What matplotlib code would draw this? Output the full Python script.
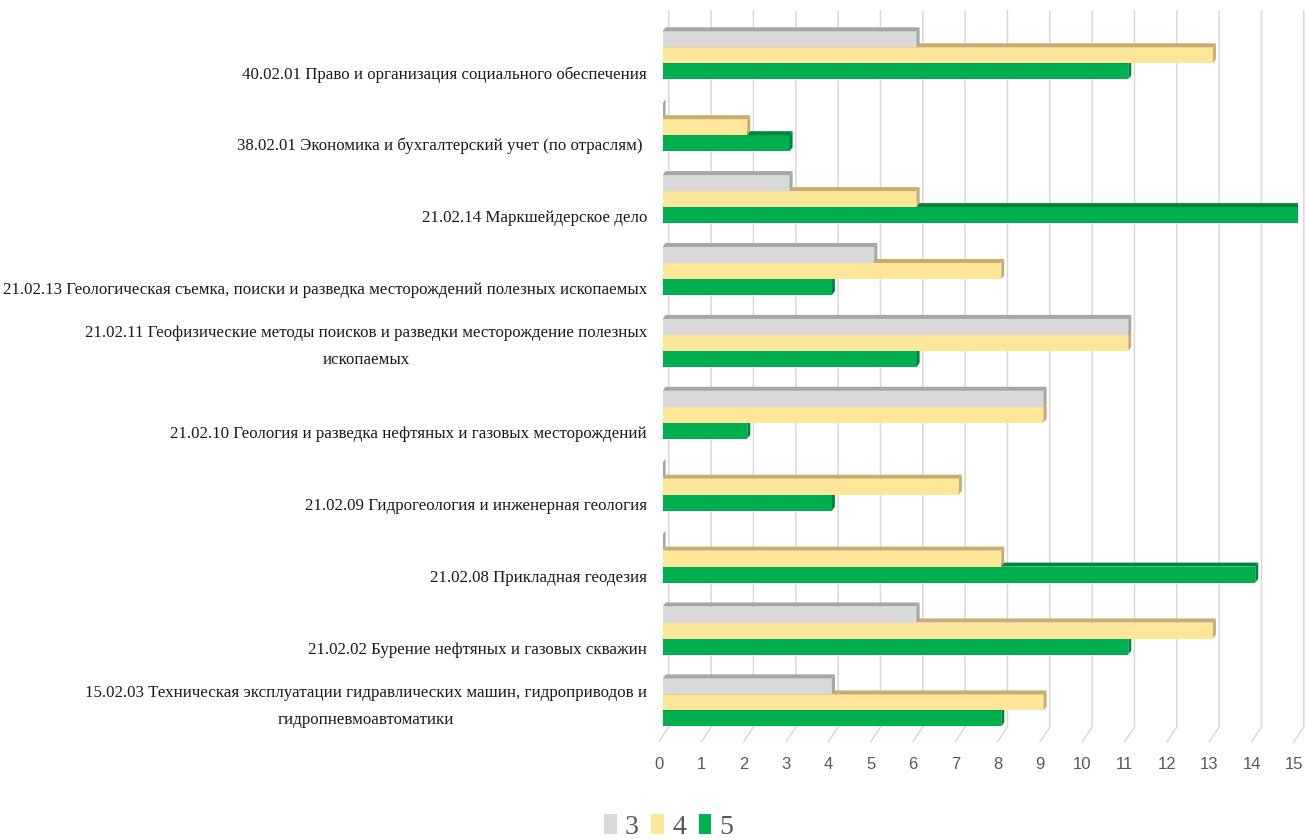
import matplotlib
matplotlib.use("Agg")
import matplotlib.pyplot as plt
import matplotlib.transforms as mtransforms
from matplotlib.patches import Polygon, Patch
from matplotlib import font_manager

# ---------------- data ----------------
categories = [
    "40.02.01 Право и организация социального обеспечения",
    "38.02.01 Экономика и бухгалтерский учет (по отраслям) ",
    "21.02.14 Маркшейдерское дело",
    "21.02.13 Геологическая съемка, поиски и разведка месторождений полезных ископаемых",
    "21.02.11 Геофизические методы поисков и разведки месторождение полезных\nископаемых",
    "21.02.10 Геология и разведка нефтяных и газовых месторождений",
    "21.02.09 Гидрогеология и инженерная геология",
    "21.02.08 Прикладная геодезия",
    "21.02.02 Бурение нефтяных и газовых скважин",
    "15.02.03 Техническая эксплуатации гидравлических машин, гидроприводов и\nгидропневмоавтоматики",
]
grade3 = [6, 0, 3, 5, 11, 9, 0, 0, 6, 4]
grade4 = [13, 2, 6, 8, 11, 9, 7, 8, 13, 9]
grade5 = [11, 3, 15, 4, 6, 2, 4, 14, 11, 8]
series_names = ["3", "4", "5"]
x_ticks = list(range(0, 16))

# ---------------- styles ----------------
front_colors = ["#D9D9D9", "#FFE699", "#00B050"]
side_colors = ["#A6A6A6", "#C6AE72", "#00843B"]
grid_color = "#D9D9D9"

avail = {f.name for f in font_manager.fontManager.ttflist}
serif = "Liberation Serif" if "Liberation Serif" in avail else "DejaVu Serif"
narrow = "Liberation Sans Narrow" if "Liberation Sans Narrow" in avail else "Liberation Sans"

W, H = 1305, 839
L, R, T, B = 662.6, 1297.6, 11.0, 741.7     # axes box in pixels
Y0, STEP = 55.3, 71.9                       # first category centre / spacing (px)
BAR_PX = 16.0
DEPTH_X, DEPTH_Y = 3.0, 4.0

fig = plt.figure(figsize=(W / 100, H / 100), dpi=100)
fig.patch.set_facecolor("white")
ax = fig.add_axes([L / W, 1 - B / H, (R - L) / W, (B - T) / H])
ax.set_xlim(0, 15)
ax.set_ylim((B - Y0) / STEP, (T - Y0) / STEP)
for sp in ax.spines.values():
    sp.set_visible(False)

pxx = 15.0 / (R - L)
pxy = 1.0 / STEP
bh = BAR_PX * pxy
dx = DEPTH_X * pxx
dy = DEPTH_Y * pxy

ytop_lim, ybot_lim = (T - Y0) / STEP, (B - Y0) / STEP
back_bottom = (727.0 - Y0) / STEP

# back wall grid + floor lines
for v in x_ticks:
    ax.plot([v + 6.2 * pxx, v + 6.2 * pxx, v - 3.6 * pxx],
            [ytop_lim, back_bottom, ybot_lim],
            color=grid_color, lw=1.1, clip_on=False, zorder=0,
            solid_joinstyle="miter")

series = [grade3, grade4, grade5]
ypos = list(range(len(categories)))
offsets = [-bh, 0.0, bh]
zorders = [6, 4, 2]
for s in [2, 1, 0]:
    yy = [y + offsets[s] for y in ypos]
    ax.barh(yy, series[s], height=bh, color=front_colors[s], zorder=zorders[s],
            linewidth=0)
    for y, v in zip(yy, series[s]):
        yt = y - bh / 2
        yb = y + bh / 2
        top = Polygon([(0, yt), (v, yt), (v + dx, yt - dy), (dx, yt - dy)],
                      closed=True, facecolor=side_colors[s], edgecolor="none",
                      zorder=zorders[s])
        right = Polygon([(v, yt), (v, yb), (v + dx, yb - dy), (v + dx, yt - dy)],
                        closed=True, facecolor=side_colors[s], edgecolor="none",
                        zorder=zorders[s] + 0.5)
        ax.add_patch(top)
        ax.add_patch(right)

# x ticks
ax.set_xticks(x_ticks)
ax.set_xticklabels([str(t) for t in x_ticks], fontfamily=narrow, fontsize=12,
                   color="#595959")
ax.tick_params(axis="x", length=0, pad=11.0)
shift_x = mtransforms.ScaledTranslation(-3.6 / 100, 0, fig.dpi_scale_trans)
for lab in ax.get_xticklabels():
    lab.set_transform(lab.get_transform() + shift_x)

# y ticks (category labels)
ax.set_yticks(ypos)
ax.set_yticklabels(categories, fontfamily=serif, fontsize=13, color="#1A1A1A")
ax.tick_params(axis="y", length=0, pad=11.2)

fig.canvas.draw()
rend = fig.canvas.get_renderer()
w0 = ax.get_yticklabels()[0].get_window_extent(rend).width
fs = 13 * 400.0 / w0
for lab in ax.get_yticklabels():
    lab.set_fontsize(fs)
    lab.set_multialignment("center")
    lab.set_linespacing(1.9)
    off = -3.5 if "\n" in lab.get_text() else 17.0
    lab.set_transform(lab.get_transform() +
                      mtransforms.ScaledTranslation(0, -off / 100, fig.dpi_scale_trans))

# legend
handles = [Patch(facecolor=c, edgecolor="none") for c in front_colors]
leg = fig.legend(handles, series_names, loc="center", ncol=3, frameon=False,
                 bbox_to_anchor=(668.7 / W, 1 - 827.0 / H),
                 prop={"family": serif, "size": 20},
                 handlelength=0.46, handleheight=0.75, handletextpad=0.3,
                 columnspacing=0.45, borderpad=0, borderaxespad=0)
for t in leg.get_texts():
    t.set_color("#595959")

fig.savefig("out.png", dpi=100, facecolor="white")
